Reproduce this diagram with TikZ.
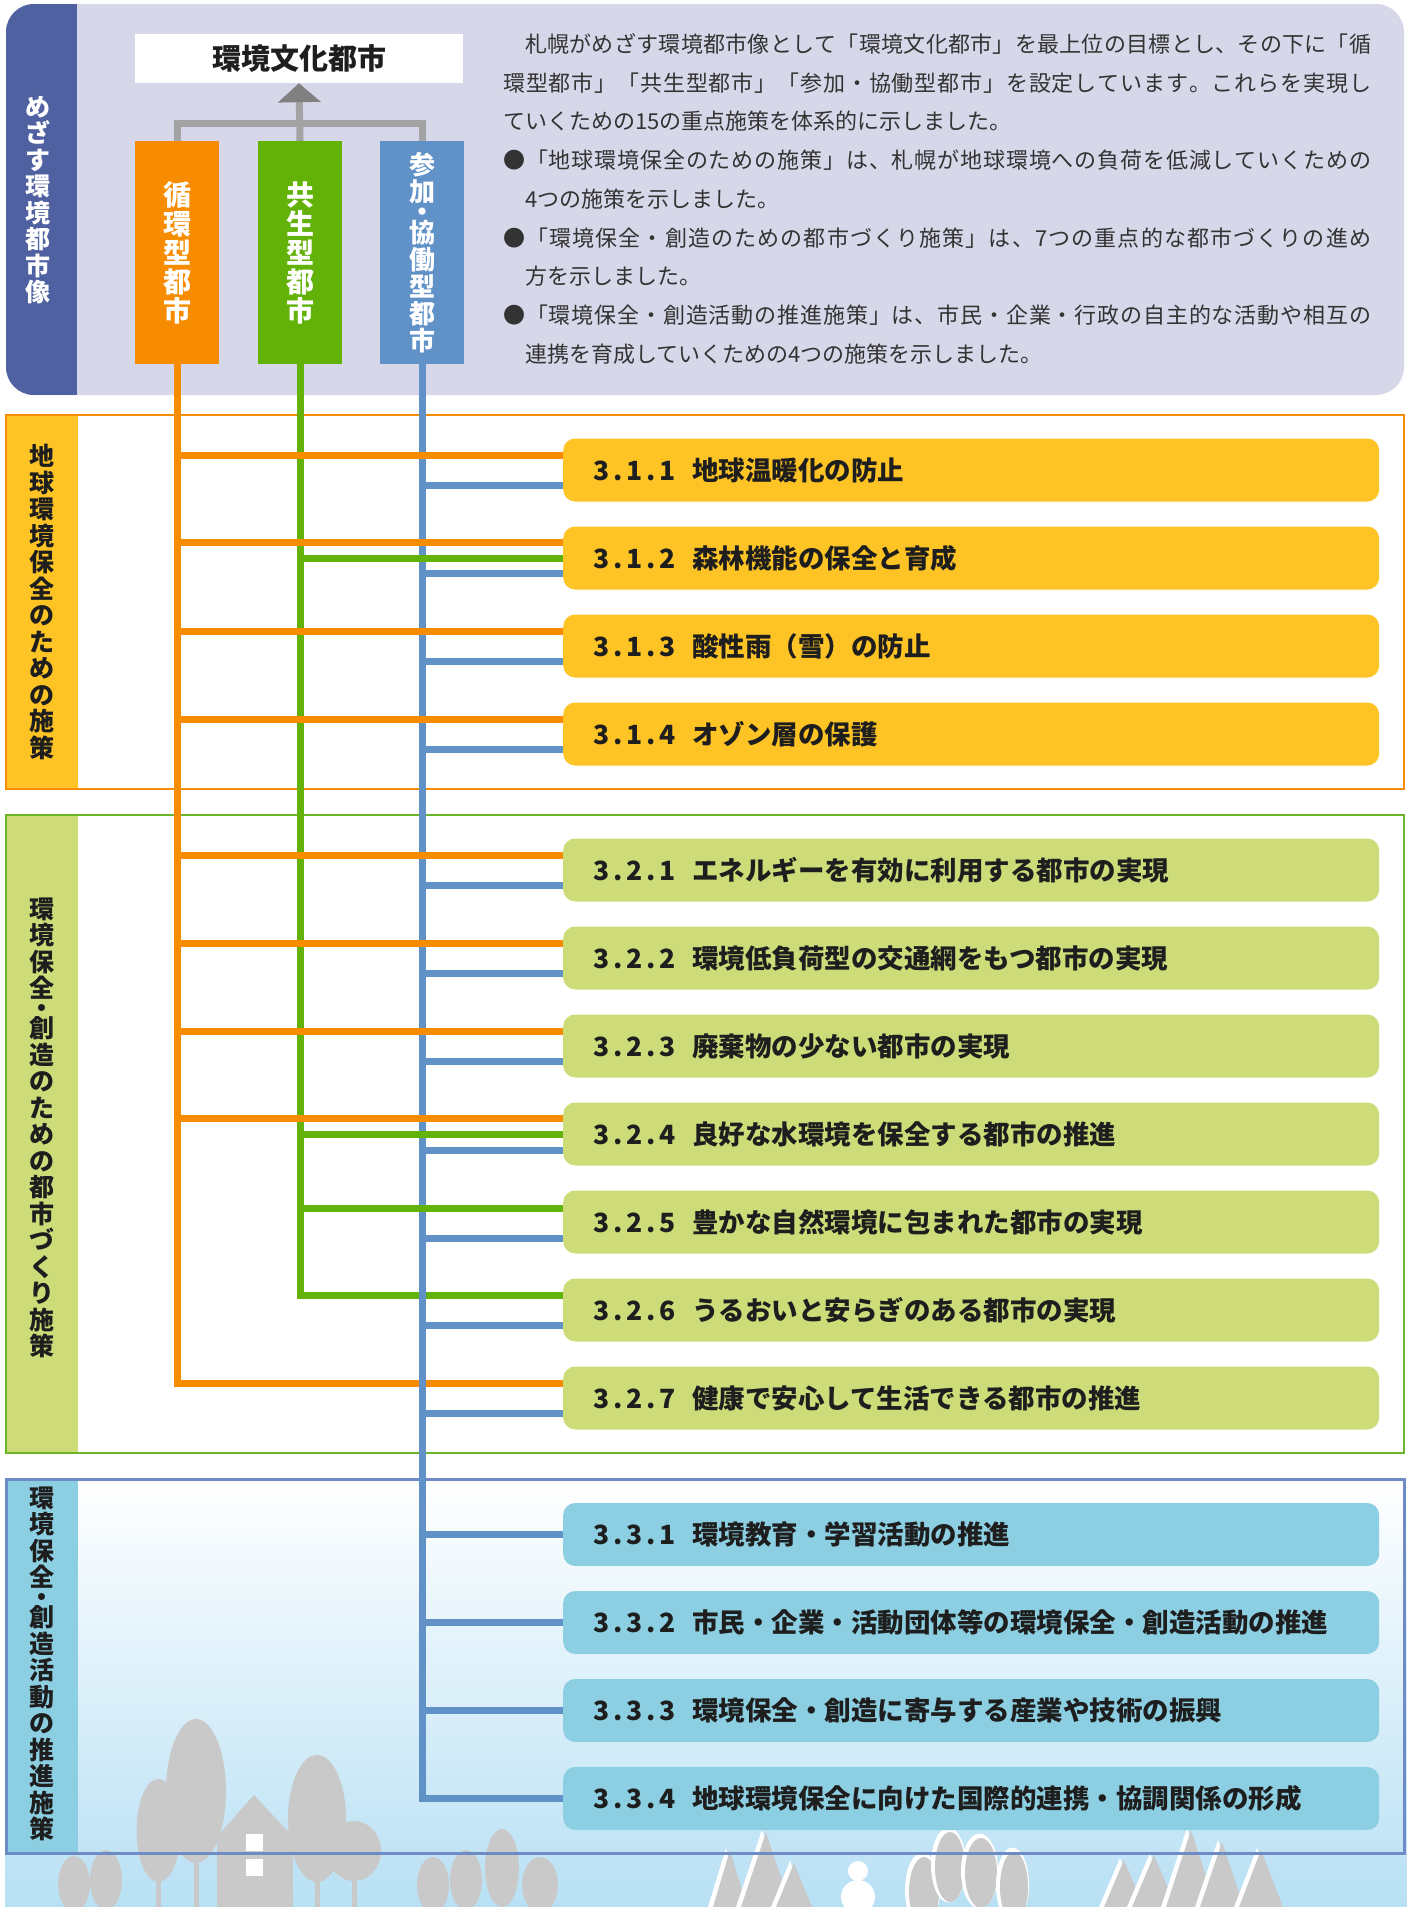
\documentclass[tikz,border=0pt]{standalone}
\usepackage{fontspec}
\setmainfont{Noto Sans CJK JP}
\usetikzlibrary{arrows.meta,calc}

\definecolor{panelbg}{HTML}{D6D7E9}
\definecolor{navy}{HTML}{5061A1}
\definecolor{orangec}{HTML}{F78C00}
\definecolor{greenc}{HTML}{62B20A}
\definecolor{bluec}{HTML}{6092C8}
\definecolor{yellowbox}{HTML}{FEC425}
\definecolor{limebox}{HTML}{CDDC79}
\definecolor{skybox}{HTML}{8DCFE2}
\definecolor{greenframe}{HTML}{6AB52A}
\definecolor{blueframe}{HTML}{6F8BC6}
\definecolor{linegray}{HTML}{A3A3A3}
\definecolor{tipgray}{HTML}{808080}
\definecolor{silh}{HTML}{C9C9C9}
\definecolor{skybottom}{HTML}{B8E0F4}
\definecolor{inktext}{HTML}{1E1E1E}
\definecolor{paratext}{HTML}{333333}

% policy number with spaced digits
\newcommand\secnum[3]{\makebox[16.5pt]{#1}\makebox[16.5pt]{.}\makebox[16.5pt]{#2}\makebox[16.5pt]{.}\makebox[16.5pt]{#3}\hspace{16.5pt}}

% justified line: stretchable glue between every character
\newcommand\jend{}
\def\jline#1{\jlineA#1\jend}
\def\jlineA#1{\ifx#1\jend\else#1\hfil\expandafter\jlineA\fi}
\newcommand\justline[2]{\makebox[#1][s]{\jline{#2}\unskip}}

\begin{document}
\begin{tikzpicture}[x=1pt,y=-1pt,
  itembox/.style={rounded corners=12pt, minimum height=63pt, text width=756pt,
    inner xsep=30pt, inner ysep=0pt, align=left, anchor=west,
    font=\bfseries\fontsize{26.5}{30}\selectfont, text=inktext,
    text height=23.3pt, text depth=3.2pt},
  cityv/.style={minimum width=84pt, minimum height=223pt, inner sep=0pt,
    text=white, align=center, font=\bfseries\fontsize{28}{29}\selectfont},
  vlab/.style={align=center, inner sep=0pt, text=inktext,
    font=\bfseries\fontsize{25}{26.5}\selectfont},
  parline/.style={anchor=west, inner sep=0pt, text=paratext,
    font=\fontsize{22}{24}\selectfont, text height=19.4pt, text depth=2.6pt},
  oline/.style={draw=orangec, line width=7pt},
  gline/.style={draw=greenc, line width=7pt},
  bline/.style={draw=bluec, line width=7pt},
  trunk/.style={draw=silh, line width=5pt},
]
\useasboundingbox (0,0) rectangle (1407,1907);

% ---------- sky and townscape at the foot ----------
\shade[top color=white, bottom color=skybottom] (5,1480) rectangle (1407,1907);

% broad-leaved trees and house
\fill[silh] (74,1884) ellipse [x radius=16pt, y radius=28pt];
\fill[silh] (106,1880) ellipse [x radius=16pt, y radius=30pt];
\draw[trunk] (158.5,1870) -- (158.5,1907);
\fill[silh] (158.5,1830.5) ellipse [x radius=22pt, y radius=51.5pt];
\draw[trunk] (196,1850) -- (196,1907);
\fill[silh] (196,1791) ellipse [x radius=30pt, y radius=72pt];
\fill[silh] (254,1795) -- (214,1840) -- (296,1840) -- cycle;
\fill[silh] (217,1838) rectangle (293,1907);
\fill[white] (246,1834) rectangle (263,1851);
\fill[white] (246,1859) rectangle (263,1876);
\draw[trunk] (317,1860) -- (317,1907);
\fill[silh] (317,1818.5) ellipse [x radius=29pt, y radius=63.5pt];
\draw[trunk] (354,1870) -- (354,1907);
\fill[silh] (354,1851) ellipse [x radius=27pt, y radius=30pt];
\fill[silh] (433,1885) ellipse [x radius=16pt, y radius=28pt];
\fill[silh] (466,1880) ellipse [x radius=16pt, y radius=30pt];
\fill[silh] (502,1868) ellipse [x radius=17pt, y radius=39pt];
\fill[silh] (540,1885) ellipse [x radius=18pt, y radius=28pt];

% snowy conifers
\foreach \cx/\cy/\hw in {730/1850/17, 766/1832/25, 794/1863/18,
    1124/1860/20, 1154/1855/22, 1191/1830/25, 1222/1842/22, 1261/1850/22}{
  \fill[white] (\cx-4,\cy-2) -- (\cx-\hw-5,1907) -- (\cx+\hw-5,1907) -- cycle;
  \fill[silh] (\cx,\cy) -- (\cx-\hw,1907) -- (\cx+\hw,1907) -- cycle;
}
% snowman
\fill[white] (858,1871) circle [radius=10pt];
\fill[white] (858,1897) circle [radius=17pt];
% snow-capped round trees
\foreach \cx/\cy/\rx in {924/1892/15, 950/1867/15, 981/1873/16, 1014/1887/14}{
  \fill[white] (\cx-1.5,\cy-2) ellipse [x radius=\rx pt+2.5pt, y radius=37.5pt];
  \fill[silh] (\cx,\cy) ellipse [x radius=\rx pt, y radius=35pt];
}

% ---------- policy group frames ----------
\fill[yellowbox] (6,415) rectangle (78,789);
\draw[orangec, line width=2.5pt] (6,415) rectangle (1404,789);
\fill[limebox] (6,815) rectangle (78,1453);
\draw[greenframe, line width=2.5pt] (6,815) rectangle (1404,1453);
\fill[skybox] (6,1479) rectangle (78,1853);
\draw[blueframe, line width=3pt] (6,1479) rectangle (1404,1853);

\node[vlab] (s1lab) at (42,602) {地\\球\\環\\境\\保\\全\\の\\た\\め\\の\\施\\策};
\node[vlab] (s2lab) at (42,1128) {環\\境\\保\\全\\[-6.6pt]・\\[-6.6pt]創\\造\\の\\た\\め\\の\\都\\市\\づ\\く\\り\\施\\策};
\node[vlab] (s3lab) at (42,1664) {環\\境\\保\\全\\[-6.6pt]・\\[-6.6pt]創\\造\\活\\動\\の\\推\\進\\施\\策};

% ---------- top panel ----------
\fill[panelbg, rounded corners=28pt] (6,4) rectangle (1404,395);
\begin{scope}
  \clip[rounded corners=28pt] (6,4) rectangle (1404,395);
  \fill[navy] (6,4) rectangle (77,395);
\end{scope}
\node[vlab, text=white] (toplab) at (38,200) {め\\ざ\\す\\環\\境\\都\\市\\像};

\node[fill=white, minimum width=328pt, minimum height=49pt, inner sep=0pt,
  font=\bfseries\fontsize{29}{30}\selectfont, text=inktext] (goal) at (299,58.5) {環境文化都市};

\node[cityv, fill=orangec] (cyc) at (177,252.5) {循\\環\\型\\都\\市};
\node[cityv, fill=greenc] (kyo) at (300,252.5) {共\\生\\型\\都\\市};
\node[cityv, fill=bluec, font=\bfseries\fontsize{26}{27}\selectfont] (san) at (422,252.5)
  {参\\加\\[-6.75pt]・\\[-6.75pt]協\\働\\型\\都\\市};

\draw[line width=7pt, linegray] (cyc.north) -- ++(0,-17) -| (san.north);
\draw[line width=7pt, linegray, -{Triangle[width=42pt, length=19pt, color=tipgray]}] (kyo.north) -- (goal.south);

\node[parline] (p1) at (525,44) {\justline{846pt}{札幌がめざす環境都市像として「環境文化都市」を最上位の目標とし、その下に「循}};
\node[parline] (p2) at (503,82.75) {\justline{868pt}{環型都市」「共生型都市」「参加・協働型都市」を設定しています。これらを実現し}};
\node[parline] (p3) at (503,121.5) {ていくための15の重点施策を体系的に示しました。};
\node[parline] (p4) at (503,160.25) {\justline{868pt}{●「地球環境保全のための施策」は、札幌が地球環境への負荷を低減していくための}};
\node[parline] (p5) at (525,199) {4つの施策を示しました。};
\node[parline] (p6) at (503,237.75) {\justline{868pt}{●「環境保全・創造のための都市づくり施策」は、7つの重点的な都市づくりの進め}};
\node[parline] (p7) at (525,276.5) {方を示しました。};
\node[parline] (p8) at (503,315.25) {\justline{868pt}{●「環境保全・創造活動の推進施策」は、市民・企業・行政の自主的な活動や相互の}};
\node[parline] (p9) at (525,354) {連携を育成していくための4つの施策を示しました。};

% ---------- policy boxes ----------
\node[itembox, fill=yellowbox] (b311) at (563,470) {\secnum{3}{1}{1}地球温暖化の防止};
\node[itembox, fill=yellowbox] (b312) at (563,558) {\secnum{3}{1}{2}森林機能の保全と育成};
\node[itembox, fill=yellowbox] (b313) at (563,646) {\secnum{3}{1}{3}酸性雨（雪）の防止};
\node[itembox, fill=yellowbox] (b314) at (563,734) {\secnum{3}{1}{4}オゾン層の保護};

\node[itembox, fill=limebox] (b321) at (563,870) {\secnum{3}{2}{1}エネルギーを有効に利用する都市の実現};
\node[itembox, fill=limebox] (b322) at (563,958) {\secnum{3}{2}{2}環境低負荷型の交通網をもつ都市の実現};
\node[itembox, fill=limebox] (b323) at (563,1046) {\secnum{3}{2}{3}廃棄物の少ない都市の実現};
\node[itembox, fill=limebox] (b324) at (563,1134) {\secnum{3}{2}{4}良好な水環境を保全する都市の推進};
\node[itembox, fill=limebox] (b325) at (563,1222) {\secnum{3}{2}{5}豊かな自然環境に包まれた都市の実現};
\node[itembox, fill=limebox] (b326) at (563,1310) {\secnum{3}{2}{6}うるおいと安らぎのある都市の実現};
\node[itembox, fill=limebox] (b327) at (563,1398) {\secnum{3}{2}{7}健康で安心して生活できる都市の推進};

\node[itembox, fill=skybox] (b331) at (563,1534.5) {\secnum{3}{3}{1}環境教育・学習活動の推進};
\node[itembox, fill=skybox] (b332) at (563,1622.5) {\secnum{3}{3}{2}市民・企業・活動団体等の環境保全・創造活動の推進};
\node[itembox, fill=skybox] (b333) at (563,1710.5) {\secnum{3}{3}{3}環境保全・創造に寄与する産業や技術の振興};
\node[itembox, fill=skybox] (b334) at (563,1798.5) {\secnum{3}{3}{4}地球環境保全に向けた国際的連携・協調関係の形成};

% ---------- connectors ----------
% trunks from the three city types
\coordinate (o327) at ([yshift=15pt]b327.west);
\coordinate (g326) at ([yshift=15pt]b326.west);
\draw[oline] (cyc.south) |- (o327);
\draw[gline] (kyo.south) |- (g326);
\draw[bline] (san.south) |- (b334.west);

% branches
\foreach \n/\d in {311/15, 312/15.5, 313/15, 314/15, 321/15, 322/15, 323/15, 324/16}{
  \coordinate (t) at ([yshift=\d pt]b\n.west);
  \draw[oline] (cyc.south |- t) -- (t);
}
\foreach \n/\d in {312/0, 324/0, 325/14}{
  \coordinate (t) at ([yshift=\d pt]b\n.west);
  \draw[gline] (kyo.south |- t) -- (t);
}
\foreach \n/\d in {311/-15, 312/-15, 313/-15, 314/-15, 321/-15, 322/-15, 323/-15,
    324/-16, 325/-16, 326/-15, 327/-15, 331/0, 332/0, 333/0}{
  \coordinate (t) at ([yshift=\d pt]b\n.west);
  \draw[bline] (san.south |- t) -- (t);
}
\end{tikzpicture}
\end{document}
